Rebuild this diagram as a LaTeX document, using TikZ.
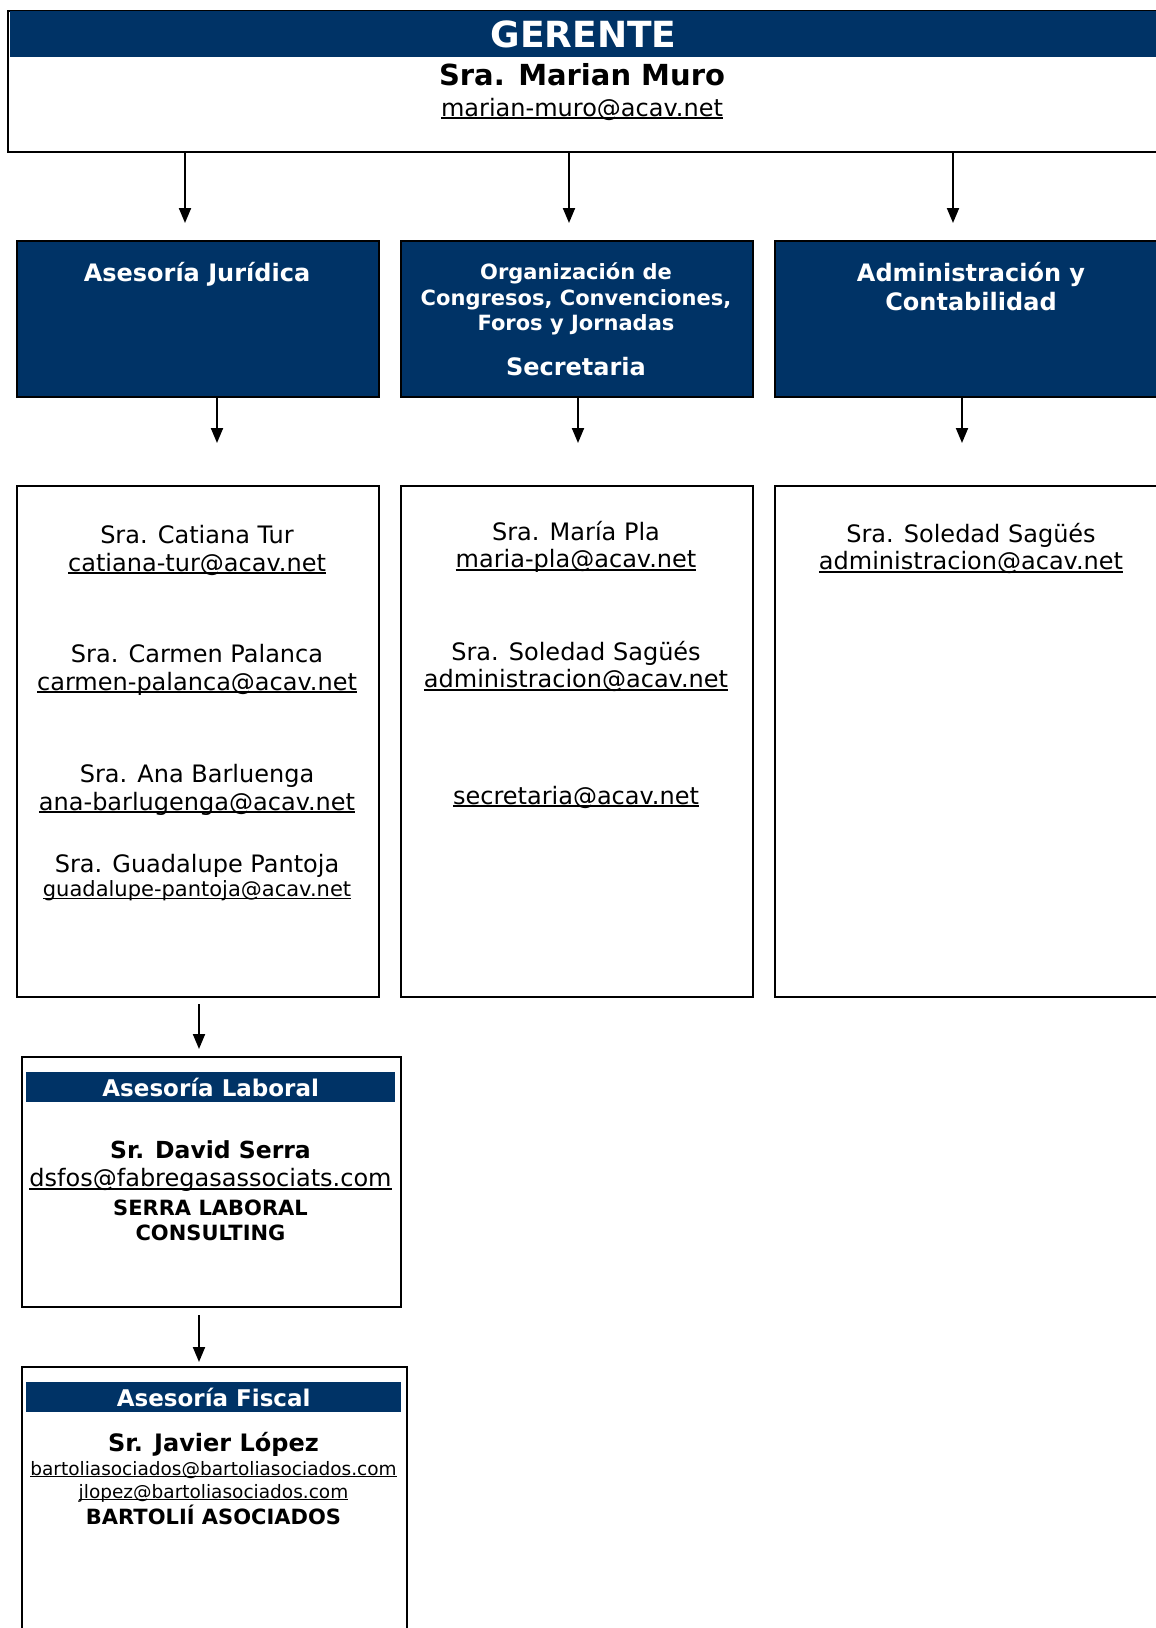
\documentclass[tikz,border=0pt]{standalone}
\usepackage{fontspec}
\setmainfont{DejaVu Sans}
\usepackage{xcolor}
\usepackage{tikz}
\usetikzlibrary{arrows.meta}
\usetikzlibrary{positioning}
\definecolor{azulacav}{RGB}{0,51,102}
\newcommand{\correo}[1]{\setbox0\hbox{#1}\rlap{\rule[-0.13em]{\wd0}{0.075em}}\box0}
\tikzset{
    caja/.style={
      rectangle,
      draw=black, line width=2pt,
      anchor=north west,
      inner sep=0pt,
    },
    azul/.style={caja, fill=azulacav},
    barra/.style={
      rectangle,
      fill=azulacav,
      anchor=north west,
      inner sep=0pt,
      text=white,
      font=\bfseries\fontsize{23}{27}\selectfont,
    },
    flecha/.style={-{Triangle[length=15pt,width=12pt]}, line width=2pt},
    txt/.style={anchor=base, inner sep=0pt, font=\fontsize{24}{28}\selectfont},
    txtb/.style={anchor=base, inner sep=0pt, font=\bfseries\fontsize{24}{28}\selectfont},
    blanco/.style={txtb, text=white},
}

\begin{document}
\begin{tikzpicture}[x=1pt,y=-1pt]

    \useasboundingbox (0,0) rectangle (1156,1628);

    % gerente
    \node[caja, minimum width=1151pt, minimum height=141pt] (ger) at (7,10) {};
    \node[barra, minimum width=1147pt, minimum height=46pt,
    font=\bfseries\fontsize{36}{40}\selectfont] (gerBar) at (10,11) {GERENTE};
    \node[txtb, font=\bfseries\fontsize{29}{33}\selectfont] (gerNom) at (582,85.7)
    {Sra. Marian Muro};
    \node[txt] (gerMail) at (582,116) {\correo{marian-muro@acav.net}};

    % areas
    \node[azul, minimum width=362pt, minimum height=156pt] (jur) at (16,240) {};
    \node[azul, minimum width=352pt, minimum height=156pt] (org) at (400,240) {};
    \node[azul, minimum width=394pt, minimum height=156pt] (adm) at (774,240) {};

    \node[blanco] (jurT) at (197,281.7) {Asesoría Jurídica};

    \node[blanco, font=\bfseries\fontsize{21}{25}\selectfont] (orgT1) at (576,279.3)
    {Organización de};
    \node[blanco, font=\bfseries\fontsize{21}{25}\selectfont] (orgT2) at (576,305)
    {Congresos, Convenciones,};
    \node[blanco, font=\bfseries\fontsize{21}{25}\selectfont] (orgT3) at (576,330)
    {Foros y Jornadas};
    \node[blanco] (orgT4) at (576,375) {Secretaria};

    \node[blanco] (admT1) at (971,281.7) {Administración y};
    \node[blanco] (admT2) at (971,310) {Contabilidad};

    % personas
    \node[caja, minimum width=362pt, minimum height=511pt] (jurP) at (16,485) {};
    \node[caja, minimum width=352pt, minimum height=511pt] (orgP) at (400,485) {};
    \node[caja, minimum width=394pt, minimum height=511pt] (admP) at (774,485) {};

    \node[txt] (cat) at (197,543) {Sra. Catiana Tur};
    \node[txt] (catMail) at (197,571) {\correo{catiana-tur@acav.net}};
    \node[txt] (car) at (197,662) {Sra. Carmen Palanca};
    \node[txt] (carMail) at (197,690) {\correo{carmen-palanca@acav.net}};
    \node[txt] (ana) at (197,782.7) {Sra. Ana Barluenga};
    \node[txt] (anaMail) at (197,810) {\correo{ana-barlugenga@acav.net}};
    \node[txt] (gua) at (197,872) {Sra. Guadalupe Pantoja};
    \node[txt, font=\fontsize{21}{25}\selectfont] (guaMail) at (197,896.7)
    {\correo{guadalupe-pantoja@acav.net}};

    \node[txt] (mar) at (576,540) {Sra. María Pla};
    \node[txt] (marMail) at (576,567.5) {\correo{maria-pla@acav.net}};
    \node[txt] (sol) at (576,660) {Sra. Soledad Sagüés};
    \node[txt] (solMail) at (576,687.5) {\correo{administracion@acav.net}};
    \node[txt] (secMail) at (576,804) {\correo{secretaria@acav.net}};

    \node[txt] (solB) at (971,542) {Sra. Soledad Sagüés};
    \node[txt] (solBMail) at (971,569.5) {\correo{administracion@acav.net}};

    % laboral
    \node[caja, minimum width=379pt, minimum height=250pt] (lab) at (21,1056) {};
    \node[barra, minimum width=369pt, minimum height=30pt] (labBar) at (26,1072)
    {Asesoría Laboral};
    \node[txtb, font=\bfseries\fontsize{23.5}{27}\selectfont] (dav) at (210.5,1158.3)
    {Sr. David Serra};
    \node[txt] (davMail) at (210.5,1186.7) {\correo{dsfos@fabregasassociats.com}};
    \node[txtb, font=\bfseries\fontsize{21}{25}\selectfont] (davEmp1) at (210.5,1215)
    {SERRA LABORAL};
    \node[txtb, font=\bfseries\fontsize{21}{25}\selectfont] (davEmp2) at (210.5,1240)
    {CONSULTING};

    % fiscal
    \node[caja, minimum width=385pt, minimum height=280pt] (fis) at (21,1366) {};
    \node[barra, minimum width=375pt, minimum height=30pt] (fisBar) at (26,1382)
    {Asesoría Fiscal};
    \node[txtb] (jav) at (213.5,1451.7) {Sr. Javier López};
    \node[txt, font=\fontsize{18.5}{22}\selectfont] (javMail1) at (213.5,1475)
    {\correo{bartoliasociados@bartoliasociados.com}};
    \node[txt, font=\fontsize{18.5}{22}\selectfont] (javMail2) at (213.5,1498)
    {\correo{jlopez@bartoliasociados.com}};
    \node[txtb, font=\bfseries\fontsize{21}{25}\selectfont] (javEmp) at (213.5,1524)
    {BARTOLIÍ ASOCIADOS};

    % flechas
    \draw[flecha, shorten >=17pt]
    ([xshift=-13pt]jur.north |- ger.south) -- ([xshift=-13pt]jur.north);
    \draw[flecha, shorten >=17pt]
    ([xshift=-8pt]org.north |- ger.south) -- ([xshift=-8pt]org.north);
    \draw[flecha, shorten >=17pt]
    ([xshift=-19pt]adm.north |- ger.south) -- ([xshift=-19pt]adm.north);

    \draw[flecha, shorten >=42pt]
    ([xshift=19pt]jur.south) -- ([xshift=19pt]jur.south |- jurP.north);
    \draw[flecha, shorten >=42pt]
    ([xshift=1pt]org.south) -- ([xshift=1pt]org.south |- orgP.north);
    \draw[flecha, shorten >=42pt]
    ([xshift=-10pt]adm.south) -- ([xshift=-10pt]adm.south |- admP.north);

    \draw[flecha, shorten <=6pt, shorten >=7pt]
    ([xshift=1pt]jurP.south) -- ([xshift=1pt]jurP.south |- lab.north);
    \draw[flecha, shorten <=7pt, shorten >=4pt]
    ([xshift=-12.5pt]lab.south) -- ([xshift=-12.5pt]lab.south |- fis.north);

\end{tikzpicture}
\end{document}
